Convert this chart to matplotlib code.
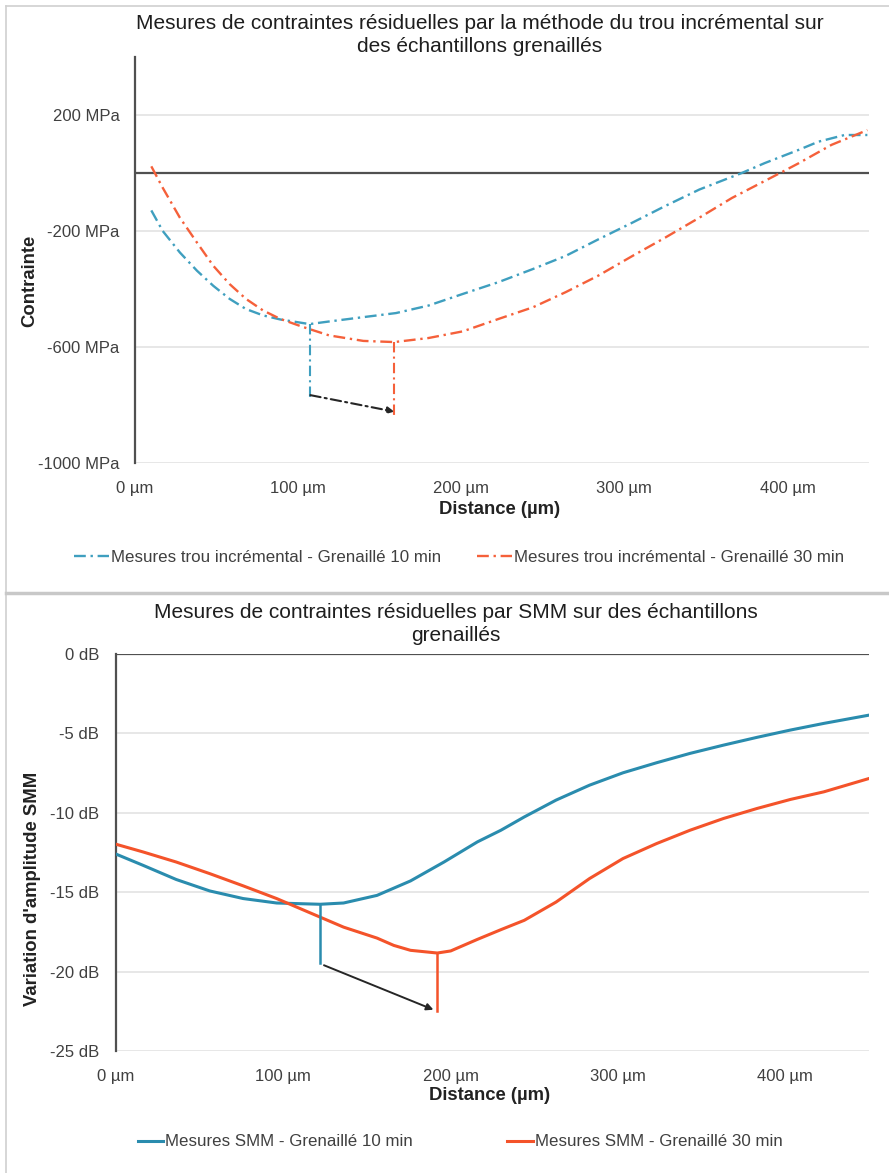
import matplotlib
matplotlib.use("Agg")
import matplotlib.pyplot as plt
from matplotlib.lines import Line2D

plt.rcParams['font.family'] = ['Liberation Sans', 'DejaVu Sans']

# ---------------- Data: top chart (incremental hole) ----------------
hole_x_10 = [10, 17, 27.5, 38, 48, 58, 68, 78.5, 89, 107, 119, 140, 160, 180, 201, 223,
             244, 264, 284, 305, 325, 346, 372, 386, 407, 419, 435, 449]
hole_y_10 = [-129, -200, -274, -337, -389, -434, -469, -491, -505, -521, -512, -497, -483,
             -457, -417, -376, -331, -286, -229, -171, -114, -57, 0, 34, 80, 108, 131, 131]
hole_x_30 = [10, 17, 27.5, 38, 48, 58, 68, 78.5, 89, 103, 119, 140, 159, 180, 201, 223,
             244, 264, 284, 305, 325, 346, 366, 395.5, 407, 427, 449]
hole_y_30 = [23, -51, -154, -240, -320, -383, -434, -474, -503, -531, -560, -579, -583,
             -569, -546, -503, -463, -411, -354, -286, -223, -154, -86, 0, 34, 97, 148]
hole_drop_10_x = [107, 107]
hole_drop_10_y = [-521, -771]
hole_drop_30_x = [159, 159]
hole_drop_30_y = [-583, -834]
hole_arrow_start = (107.5, -766)
hole_arrow_end = (159, -823)

# ---------------- Data: bottom chart (SMM) ----------------
smm_x_10 = [0, 16, 36, 56, 76, 96, 122, 136, 156, 176, 196, 216, 230, 244, 263, 283,
            303, 323, 343, 363, 383, 403, 423, 450]
smm_y_10 = [-12.6, -13.3, -14.2, -14.92, -15.4, -15.68, -15.76, -15.68, -15.2, -14.29,
            -13.1, -11.83, -11.1, -10.26, -9.2, -8.26, -7.48, -6.85, -6.26, -5.74,
            -5.25, -4.79, -4.37, -3.85]
smm_x_30 = [0, 16, 36, 56, 76, 96, 116, 136, 156, 166, 176, 192, 200, 216, 230, 244,
            263, 273, 283, 303, 323, 343, 363, 383, 403, 423, 450]
smm_y_30 = [-11.98, -12.46, -13.1, -13.83, -14.6, -15.4, -16.3, -17.2, -17.89, -18.35,
            -18.66, -18.83, -18.7, -17.97, -17.36, -16.77, -15.62, -14.88, -14.14, -12.88,
            -11.94, -11.1, -10.36, -9.73, -9.16, -8.68, -7.84]
smm_drop_10_x = [122, 122]
smm_drop_10_y = [-15.76, -19.46]
smm_drop_30_x = [191.7, 191.7]
smm_drop_30_y = [-18.83, -22.45]
smm_arrow_start = (124.3, -19.6)
smm_arrow_end = (189.7, -22.4)

hole_yticks = [-1000, -600, -200, 200]
hole_ylabels = ["-1000 MPa", "-600 MPa", "-200 MPa", "200 MPa"]
smm_yticks = [-25, -20, -15, -10, -5, 0]
smm_ylabels = ["-25 dB", "-20 dB", "-15 dB", "-10 dB", "-5 dB", "0 dB"]
xticks = [0, 100, 200, 300, 400]
xlabels = ["0 µm", "100 µm", "200 µm", "300 µm", "400 µm"]

title_top = "Mesures de contraintes résiduelles par la méthode du trou incrémental sur\ndes échantillons grenaillés"
title_bot = "Mesures de contraintes résiduelles par SMM sur des échantillons\ngrenaillés"
leg_top = ["Mesures trou incrémental - Grenaillé 10 min", "Mesures trou incrémental - Grenaillé 30 min"]
leg_bot = ["Mesures SMM - Grenaillé 10 min", "Mesures SMM - Grenaillé 30 min"]

BLUE = "#3F9FBF"
BLUE2 = "#2A8CAE"
ORANGE = "#F5603A"
ORANGE2 = "#F4532A"
TXT = "#404040"
DARK = "#505050"
GRID = "#E3E3E3"
DASHDOT = (0, (5, 2, 1, 2))
TICK_FS = 12
LEG_FS = 12.2
LAB_FS = 13.3
TITLE_FS = 15

W, H = 889, 1173
fig = plt.figure(figsize=(W / 100, H / 100), dpi=100)


def fx(px):
    return px / W


def fy(py):
    return 1 - py / H


def axes_px(l, t, r, b):
    return fig.add_axes([fx(l), fy(b), fx(r) - fx(l), fy(t) - fy(b)])


# panel frames
fig.add_artist(Line2D([fx(6), fx(6)], [fy(6), fy(1173)], color="#D0D0D0", lw=1.2))
fig.add_artist(Line2D([fx(6), fx(889)], [fy(6), fy(6)], color="#D0D0D0", lw=1.2))
fig.add_artist(Line2D([fx(6), fx(889)], [fy(593), fy(593)], color="#C8C8C8", lw=2.5))


def style_axes(ax, yticks, ylabels, ypad, xpad):
    ax.set_yticks(yticks)
    ax.set_yticklabels(ylabels)
    ax.set_xticks(xticks)
    ax.set_xticklabels(xlabels)
    ax.tick_params(axis="both", length=0, labelsize=TICK_FS, colors=TXT)
    ax.tick_params(axis="y", pad=ypad)
    ax.tick_params(axis="x", pad=xpad)
    for s in ["top", "right", "bottom"]:
        ax.spines[s].set_visible(False)
    ax.spines["left"].set_color(DARK)
    ax.spines["left"].set_linewidth(1.6)
    ax.grid(axis="y", color=GRID, lw=1.2)
    ax.set_axisbelow(True)
    ax.axhline(0, color=DARK, lw=1.6, zorder=2)


# ---------------- Top chart ----------------
ax1 = axes_px(135, 57, 869, 463)
ax1.set_xlim(0, 450)
ax1.set_ylim(-1000, 400)
style_axes(ax1, hole_yticks, hole_ylabels, 11, 13)
ax1.plot(hole_x_10, hole_y_10, color=BLUE, lw=1.7, ls=DASHDOT, zorder=3)
ax1.plot(hole_x_30, hole_y_30, color=ORANGE, lw=1.7, ls=DASHDOT, zorder=3)
ax1.plot(hole_drop_10_x, hole_drop_10_y, color=BLUE, lw=1.5, ls=DASHDOT, zorder=3)
ax1.plot(hole_drop_30_x, hole_drop_30_y, color=ORANGE, lw=1.5, ls=DASHDOT, zorder=3)
ax1.annotate("", xy=hole_arrow_end, xytext=hole_arrow_start,
             arrowprops=dict(arrowstyle="-|>", color="#262626", lw=1.5, ls=(0, (5, 2, 1, 2)),
                             mutation_scale=10, shrinkA=0, shrinkB=0))
fig.text(fx(480), fy(35), title_top, ha="center", va="center", fontsize=TITLE_FS,
         color="#1E1E1E", linespacing=1.22)
ax1.set_ylabel("Contrainte", fontsize=LAB_FS, fontweight="bold", color="#222222")
ax1.yaxis.set_label_coords((38 - 135) / (869 - 135), (463 - 281) / (463 - 57))
fig.text(fx(500), fy(510), "Distance (µm)", ha="center", va="center", fontsize=LAB_FS,
         fontweight="bold", color="#222222")
h1 = [Line2D([], [], color=BLUE, lw=1.7, ls=DASHDOT), Line2D([], [], color=ORANGE, lw=1.7, ls=DASHDOT)]
fig.legend(h1, leg_top, loc="center", bbox_to_anchor=(fx(459), fy(557)), ncol=2,
           frameon=False, fontsize=LEG_FS, handlelength=2.1, handletextpad=0.1,
           columnspacing=2.1, labelcolor=TXT)

# ---------------- Bottom chart ----------------
ax2 = axes_px(116, 654, 869, 1051)
ax2.set_xlim(0, 450)
ax2.set_ylim(-25, 0)
style_axes(ax2, smm_yticks, smm_ylabels, 12, 13)
ax2.plot(smm_x_10, smm_y_10, color=BLUE2, lw=2.2, zorder=3)
ax2.plot(smm_x_30, smm_y_30, color=ORANGE2, lw=2.2, zorder=3)
ax2.plot(smm_drop_10_x, smm_drop_10_y, color=BLUE2, lw=1.8, zorder=3)
ax2.plot(smm_drop_30_x, smm_drop_30_y, color=ORANGE2, lw=1.8, zorder=3)
ax2.annotate("", xy=smm_arrow_end, xytext=smm_arrow_start,
             arrowprops=dict(arrowstyle="-|>", color="#262626", lw=1.4,
                             mutation_scale=10, shrinkA=0, shrinkB=0))
fig.text(fx(456), fy(624), title_bot, ha="center", va="center", fontsize=TITLE_FS,
         color="#1E1E1E", linespacing=1.22)
ax2.set_ylabel("Variation d'amplitude SMM", fontsize=LAB_FS, fontweight="bold", color="#222222")
ax2.yaxis.set_label_coords((41 - 116) / (869 - 116), (1051 - 889) / (1051 - 654))
fig.text(fx(490), fy(1095), "Distance (µm)", ha="center", va="center", fontsize=LAB_FS,
         fontweight="bold", color="#222222")
h2 = [Line2D([], [], color=BLUE2, lw=2.2), Line2D([], [], color=ORANGE2, lw=2.2)]
fig.legend(h2, leg_bot, loc="center", bbox_to_anchor=(fx(460), fy(1142)), ncol=2,
           frameon=False, fontsize=LEG_FS, handlelength=1.5, handletextpad=0.1,
           columnspacing=5.6, labelcolor=TXT)

fig.savefig("out.png", dpi=100, facecolor="white")
